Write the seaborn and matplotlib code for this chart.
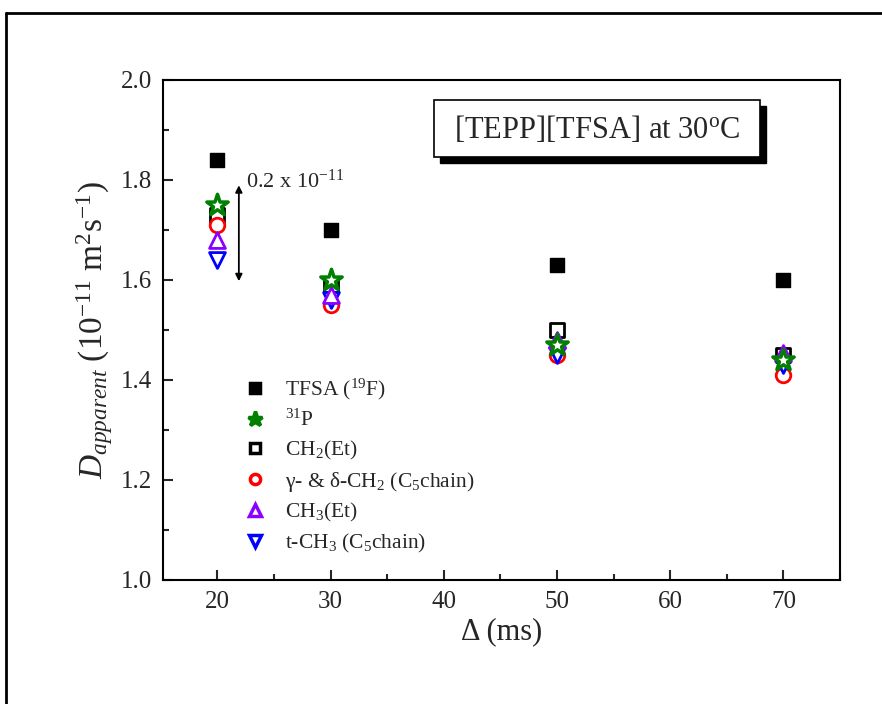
import numpy as np
import pandas as pd
import matplotlib
matplotlib.use('Agg')
import matplotlib.pyplot as plt
import seaborn as sns
from matplotlib.patches import Rectangle
from matplotlib.ticker import MultipleLocator, FormatStrFormatter

# data
delta = [20, 30, 50, 70]
tfsa = [1.84, 1.70, 1.63, 1.60]
p31 = [1.75, 1.60, 1.47, 1.44]
ch2_et = [1.73, 1.59, 1.50, 1.45]
gd_ch2 = [1.71, 1.55, 1.45, 1.41]
ch3_et = [1.68, 1.57, 1.48, 1.455]
t_ch3 = [1.64, 1.56, 1.45, 1.43]

labels = ['TFSA ($^{19}$F)', '$^{31}$P', 'CH$_2$(Et)',
          'γ- & δ-CH$_2$ (C$_5$chain)', 'CH$_3$(Et)', 't-CH$_3$ (C$_5$chain)']

sns.set_style('white')
plt.rcParams['font.family'] = ['Liberation Serif', 'DejaVu Serif']
plt.rcParams['mathtext.fontset'] = 'custom'
plt.rcParams['mathtext.rm'] = 'Liberation Serif'
plt.rcParams['mathtext.it'] = 'Liberation Serif:italic'

rows = []
for lab, vals in zip(labels, [tfsa, p31, ch2_et, gd_ch2, ch3_et, t_ch3]):
    for x, y in zip(delta, vals):
        rows.append({'delta': x, 'D': y, 'species': lab})
df = pd.DataFrame(rows)

styles = {
    labels[0]: dict(marker='s', s=110, facecolor='black', edgecolor='black', lw=1.0),
    labels[1]: dict(marker='*', s=260, facecolor='white', edgecolor='green', lw=2.5),
    labels[2]: dict(marker='s', s=90, facecolor='white', edgecolor='black', lw=2.0),
    labels[3]: dict(marker='o', s=110, facecolor='white', edgecolor='red', lw=2.0),
    labels[4]: dict(marker='^', s=130, facecolor='white', edgecolor='#8B00FF', lw=2.0),
    labels[5]: dict(marker='v', s=130, facecolor='white', edgecolor='blue', lw=2.0),
}
order = [labels[0], labels[2], labels[3], labels[5], labels[4], labels[1]]

fig = plt.figure(figsize=(8.82, 7.04), dpi=100)
ax = fig.add_axes([163 / 882, 1 - 580 / 704, 677 / 882, 500 / 704])

handles = {}
for lab in order:
    st = styles[lab]
    sub = df[df['species'] == lab]
    sns.scatterplot(data=sub, x='delta', y='D', ax=ax, marker=st['marker'], s=st['s'],
                    color=st['facecolor'], edgecolor=st['edgecolor'], linewidth=st['lw'],
                    legend=False, zorder=3)
    handles[lab] = plt.Line2D([], [], ls='none', marker=st['marker'],
                              markersize=np.sqrt(st['s']) * 0.7,
                              markerfacecolor=st['edgecolor'] if lab == labels[1] else st['facecolor'],
                              markeredgecolor=st['edgecolor'], markeredgewidth=2.5)

ax.set_xlim(15.2, 75)
ax.set_ylim(1.0, 2.0)
ax.xaxis.set_major_locator(MultipleLocator(10))
ax.xaxis.set_minor_locator(MultipleLocator(5))
ax.yaxis.set_major_locator(MultipleLocator(0.2))
ax.yaxis.set_minor_locator(MultipleLocator(0.1))
ax.yaxis.set_major_formatter(FormatStrFormatter('%.1f'))
ax.tick_params(which='both', direction='in', top=False, right=False, labelsize=18,
               width=1.5, pad=8)
ax.tick_params(which='major', length=7)
ax.tick_params(which='minor', length=4)
ax.tick_params(axis='x', which='both', bottom=True)
ax.tick_params(axis='y', which='both', left=True)
for sp in ax.spines.values():
    sp.set_linewidth(1.5)
    sp.set_color('black')

ax.set_xlabel('Δ (ms)', fontsize=22, labelpad=3)
ax.set_ylabel('$D_{apparent}$ (10$^{-11}$ m$^2$s$^{-1}$)', fontsize=24, labelpad=4)

# legend
ax.legend([handles[l] for l in labels], labels, loc='upper left',
          bbox_to_anchor=(0.088, 0.445), frameon=False, fontsize=15.5,
          handletextpad=0.8, labelspacing=0.36, handlelength=1.2)

# arrow indicating 0.2 x 10^-11
ax.annotate('', xy=(21.9, 1.592), xytext=(21.9, 1.795),
            arrowprops=dict(arrowstyle='<|-|>', color='black', lw=1.3, mutation_scale=10))
ax.text(22.5, 1.775, '0.2 x 10$^{-11}$', fontsize=16, va='bottom', ha='left')

# title box with drop shadow
ax.add_patch(Rectangle((440 / 882, 1 - 163 / 704), 326 / 882, 57 / 704,
                       transform=fig.transFigure, facecolor='black', edgecolor='black',
                       zorder=4, clip_on=False))
ax.add_patch(Rectangle((434 / 882, 1 - 157 / 704), 326 / 882, 57 / 704,
                       transform=fig.transFigure, facecolor='white', edgecolor='black',
                       lw=1.2, zorder=5, clip_on=False))
fig.text(597 / 882, 1 - 129 / 704, '[TEPP][TFSA] at 30$^{\\mathrm{o}}$C',
         fontsize=22, ha='center', va='center', zorder=6)

# outer frame (only left and top visible)
fig.add_artist(plt.Line2D([6 / 882, 6 / 882], [0, 1 - 12.5 / 704], color='black', lw=2,
                          transform=fig.transFigure))
fig.add_artist(plt.Line2D([6 / 882, 1], [1 - 12.5 / 704, 1 - 12.5 / 704], color='black', lw=2,
                          transform=fig.transFigure))

fig.savefig('out.png', dpi=100)
